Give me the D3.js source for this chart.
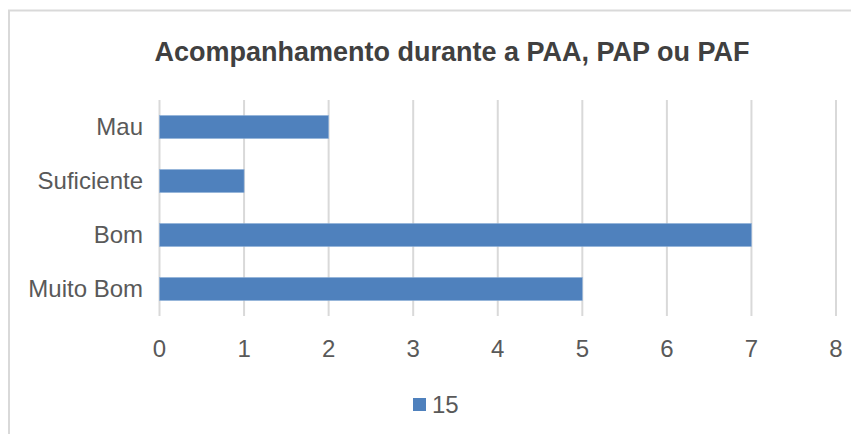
<!DOCTYPE html>
<meta charset="utf-8">
<style>
body { margin: 0; background: #fff; }
svg { display: block; font-family: "Liberation Sans", Arial, sans-serif; }
.grid line { stroke: #d9d9d9; stroke-width: 2px; }
.lbl { fill: #595959; font-size: 24px; }
</style>
<script src="https://d3js.org/d3.v7.min.js"></script>
<body>
<script>
// data
var categories = ["Mau", "Suficiente", "Bom", "Muito Bom"];
var values = [2, 1, 7, 5];
var seriesName = "15";
var xTicks = [0, 1, 2, 3, 4, 5, 6, 7, 8];

var W = 851, H = 434;
var svg = d3.select("body").append("svg")
    .attr("width", W)
    .attr("height", H);

// chart frame (only top and left edges visible)
svg.append("path")
    .attr("d", "M9," + H + "V10.5H" + W)
    .attr("fill", "none")
    .attr("stroke", "#d9d9d9")
    .attr("stroke-width", 2);

var x = d3.scaleLinear().domain([0, 8]).range([159.5, 836]);
var y = d3.scaleBand().domain(categories).range([100, 316])
    .paddingInner(0.574).paddingOuter(0.287);

// gridlines
svg.append("g").attr("class", "grid")
  .selectAll("line")
  .data(xTicks)
  .enter().append("line")
    .attr("x1", d => x(d)).attr("x2", d => x(d))
    .attr("y1", 100).attr("y2", 316);

// bars
svg.selectAll(".bar")
  .data(values)
  .enter().append("rect")
    .attr("class", "bar")
    .attr("x", x(0))
    .attr("y", (d, i) => y(categories[i]))
    .attr("width", d => x(d) - x(0))
    .attr("height", y.bandwidth())
    .attr("fill", "#4f81bd")
    .attr("stroke", "#8eb0d8")
    .attr("stroke-width", 0.6);

// y labels
svg.selectAll(".ylab")
  .data(categories)
  .enter().append("text")
    .attr("class", "lbl")
    .attr("x", 143)
    .attr("y", d => y(d) + y.bandwidth() / 2)
    .attr("dy", "0.35em")
    .attr("text-anchor", "end")
    .text(d => d);

// x tick labels
svg.selectAll(".xlab")
  .data(xTicks)
  .enter().append("text")
    .attr("class", "lbl")
    .attr("x", d => x(d))
    .attr("y", 357)
    .attr("text-anchor", "middle")
    .text(d => d);

// title
svg.append("text")
    .attr("x", 452)
    .attr("y", 61)
    .attr("text-anchor", "middle")
    .attr("font-size", 27)
    .attr("font-weight", "bold")
    .attr("fill", "#404040")
    .text("Acompanhamento durante a PAA, PAP ou PAF");

// legend
svg.append("rect")
    .attr("x", 413).attr("y", 398)
    .attr("width", 13).attr("height", 13)
    .attr("fill", "#4f81bd");
svg.append("text")
    .attr("class", "lbl")
    .attr("x", 432).attr("y", 413)
    .text(seriesName);
</script>
</body>
